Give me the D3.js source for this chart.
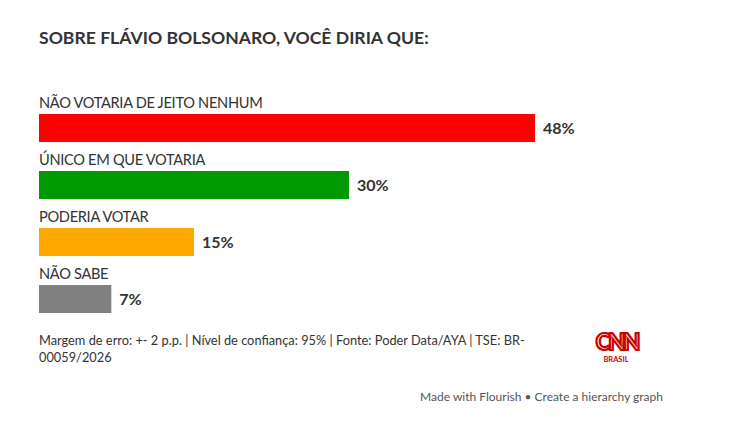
<!DOCTYPE html>
<html><head><meta charset="utf-8">
<script src="https://cdn.jsdelivr.net/npm/d3@7/dist/d3.min.js"></script>
<style>body{margin:0;background:#fff;}svg{display:block;}</style>
</head><body>
<script>
const categories = ["NÃO VOTARIA DE JEITO NENHUM", "ÚNICO EM QUE VOTARIA", "PODERIA VOTAR", "NÃO SABE"];
const values = [48, 30, 15, 7];
const colors = ["#ff0000", "#009900", "#ffa800", "#808080"];
const title = "SOBRE FLÁVIO BOLSONARO, VOCÊ DIRIA QUE:";
const footer1 = "Margem de erro: +- 2 p.p. | Nível de confiança: 95% | Fonte: Poder Data/AYA | TSE: BR-";
const footer2 = "00059/2026";
const credit = "Made with Flourish • Create a hierarchy graph";

const W = 750, H = 427;
const svg = d3.select("body").append("svg").attr("width", W).attr("height", H);
const font = "Lato, 'Open Sans', sans-serif";

svg.append("text").attr("x", 39).attr("y", 44).text(title)
  .attr("font-family", font).attr("font-weight", 700).attr("font-size", 17.6).attr("fill", "#333");

const x = d3.scaleLinear().domain([0, 48]).range([39, 535]);
const y = d3.scaleBand().domain(categories).range([114, 313]).paddingInner(0.509).paddingOuter(0);

const g = svg.append("g");
categories.forEach((c, i) => {
  const yy = y(c);
  const bh = y.bandwidth();
  g.append("rect").attr("x", x(0)).attr("y", yy).attr("width", x(values[i]) - x(0)).attr("height", bh)
    .attr("fill", colors[i]);
  g.append("text").attr("x", 39).attr("y", yy - 6).text(c)
    .attr("font-family", font).attr("font-weight", 400).attr("font-size", 14.6)
    .attr("letter-spacing", -0.3).attr("fill", "#333");
  g.append("text").attr("x", x(values[i]) + 8).attr("y", yy + 20).text(values[i] + "%")
    .attr("font-family", font).attr("font-weight", 700).attr("font-size", 16).attr("fill", "#333");
});

svg.append("text").attr("x", 39).attr("y", 345).text(footer1)
  .attr("font-family", font).attr("font-size", 12.8).attr("fill", "#333");
svg.append("text").attr("x", 39).attr("y", 362).text(footer2)
  .attr("font-family", font).attr("font-size", 12.8).attr("fill", "#333");

// CNN logo
svg.append("text").attr("x", 617).attr("y", 350).attr("text-anchor", "middle").text("CNN")
  .attr("font-family", font).attr("font-weight", 900).attr("font-size", 22).attr("fill", "#fff")
  .attr("stroke", "#cc0000").attr("stroke-width", 2.2).attr("letter-spacing", -2);
svg.append("text").attr("x", 616).attr("y", 362).attr("text-anchor", "middle").text("BRASIL")
  .attr("font-family", font).attr("font-weight", 700).attr("font-size", 7.5).attr("fill", "#cc0000");

svg.append("text").attr("x", 663).attr("y", 401).attr("text-anchor", "end").text(credit)
  .attr("font-family", font).attr("font-size", 12).attr("fill", "#555");
</script>
</body></html>
